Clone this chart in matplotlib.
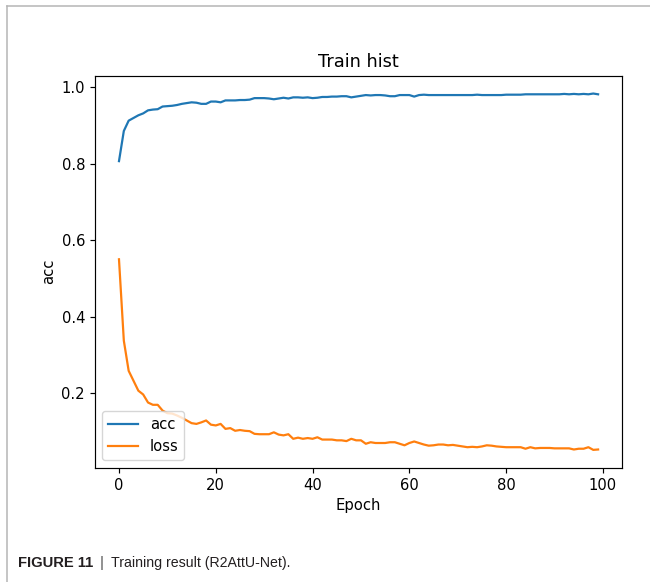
import numpy as np
import matplotlib
matplotlib.use('Agg')
import matplotlib.pyplot as plt
from matplotlib.lines import Line2D

# values (100 epochs)
acc = [0.807, 0.886, 0.913, 0.920, 0.927, 0.932, 0.940, 0.942, 0.943, 0.950,
       0.951, 0.952, 0.954, 0.957, 0.959, 0.961, 0.960, 0.957, 0.957, 0.963,
       0.963, 0.961, 0.966, 0.966, 0.966, 0.967, 0.967, 0.968, 0.972, 0.972,
       0.972, 0.971, 0.969, 0.971, 0.973, 0.971, 0.974, 0.974, 0.973, 0.974,
       0.972, 0.973, 0.975, 0.975, 0.976, 0.976, 0.977, 0.977, 0.974, 0.976,
       0.978, 0.980, 0.979, 0.980, 0.980, 0.979, 0.977, 0.977, 0.980, 0.980,
       0.980, 0.976, 0.980, 0.981, 0.980, 0.980, 0.980, 0.980, 0.980, 0.980,
       0.980, 0.980, 0.980, 0.980, 0.981, 0.980, 0.980, 0.980, 0.980, 0.980,
       0.981, 0.981, 0.981, 0.981, 0.982, 0.982, 0.982, 0.982, 0.982, 0.982,
       0.982, 0.982, 0.983, 0.982, 0.983, 0.982, 0.983, 0.982, 0.984, 0.982]
loss = [0.550, 0.337, 0.258, 0.232, 0.206, 0.196, 0.175, 0.169, 0.169, 0.154,
        0.147, 0.146, 0.141, 0.135, 0.128, 0.121, 0.119, 0.123, 0.128, 0.117,
        0.115, 0.119, 0.106, 0.108, 0.101, 0.103, 0.101, 0.100, 0.093, 0.092,
        0.092, 0.092, 0.097, 0.091, 0.089, 0.092, 0.080, 0.083, 0.080, 0.082,
        0.080, 0.084, 0.078, 0.078, 0.078, 0.076, 0.076, 0.074, 0.080, 0.076,
        0.076, 0.067, 0.071, 0.069, 0.069, 0.069, 0.071, 0.071, 0.067, 0.063,
        0.069, 0.073, 0.069, 0.065, 0.062, 0.063, 0.065, 0.065, 0.063, 0.064,
        0.062, 0.060, 0.058, 0.059, 0.058, 0.060, 0.063, 0.062, 0.060, 0.059,
        0.058, 0.058, 0.058, 0.058, 0.054, 0.058, 0.055, 0.056, 0.056, 0.056,
        0.055, 0.055, 0.055, 0.055, 0.052, 0.054, 0.054, 0.058, 0.051, 0.052]
epochs = np.arange(len(acc))

s = 1.0625
fig = plt.figure(figsize=(6.5, 5.82), dpi=100)
ax = fig.add_axes([0.1462, 0.1964, 0.8108, 0.6735])

ax.plot(epochs, acc, color='#1f77b4', lw=1.5 * s, label='acc')
ax.plot(epochs, loss, color='#ff7f0e', lw=1.5 * s, label='loss')

ax.set_title('Train hist', fontsize=12 * s, pad=6 * s)
ax.set_xlabel('Epoch', fontsize=10 * s)
ax.set_ylabel('acc', fontsize=10 * s)
ax.set_yticks([0.2, 0.4, 0.6, 0.8, 1.0])
ax.set_xticks([0, 20, 40, 60, 80, 100])
ax.tick_params(labelsize=10 * s, width=0.8 * s, length=3.5 * s)
for sp in ax.spines.values():
    sp.set_linewidth(0.8 * s)
ax.legend(loc='lower left', fontsize=10 * s)

# journal frame (left + top rules)
fig.add_artist(Line2D([0.01, 0.01], [0.0, 0.990], color='#b5b5b5', lw=1.1,
                      transform=fig.transFigure))
fig.add_artist(Line2D([0.01, 1.0], [0.990, 0.990], color='#b5b5b5', lw=1.1,
                      transform=fig.transFigure))

# caption
cap_y = 1 - 563 / 582
fig.text(18 / 650, cap_y, 'FIGURE 11', fontsize=10.6, fontweight='bold',
         family='Liberation Sans', color='#231f20', va='center')
fig.text(100 / 650, cap_y, '|', fontsize=10.6, family='Liberation Sans',
         color='#555555', va='center')
fig.text(111 / 650, cap_y, 'Training result (R2AttU-Net).', fontsize=10.2,
         family='Liberation Sans', color='#231f20', va='center')

fig.savefig('out.png', dpi=100)
